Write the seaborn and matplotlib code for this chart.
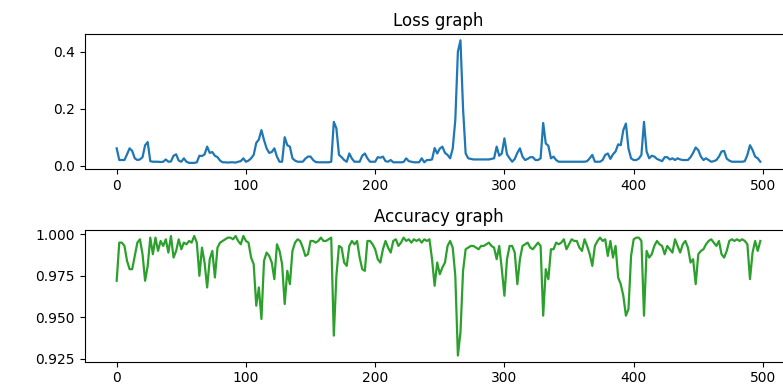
import numpy as np
import pandas as pd
import matplotlib
matplotlib.use("Agg")
import matplotlib.pyplot as plt
import seaborn as sns

# epoch indices (sampled every 2 steps)
epochs = list(range(0, 500, 2))

loss_values = [
    0.061, 0.020, 0.020, 0.020, 0.040, 0.061, 0.052, 0.026, 0.020, 0.022,
    0.030, 0.072, 0.083, 0.016, 0.014, 0.014, 0.014, 0.013, 0.014, 0.022,
    0.014, 0.015, 0.035, 0.040, 0.018, 0.014, 0.026, 0.014, 0.010, 0.010,
    0.010, 0.012, 0.035, 0.034, 0.040, 0.067, 0.045, 0.048, 0.035, 0.030,
    0.018, 0.012, 0.012, 0.011, 0.012, 0.012, 0.011, 0.014, 0.016, 0.026,
    0.014, 0.018, 0.026, 0.038, 0.080, 0.092, 0.125, 0.090, 0.061, 0.045,
    0.048, 0.061, 0.032, 0.014, 0.014, 0.100, 0.072, 0.067, 0.026, 0.018,
    0.014, 0.014, 0.014, 0.025, 0.032, 0.032, 0.020, 0.013, 0.012, 0.012,
    0.012, 0.012, 0.012, 0.014, 0.154, 0.131, 0.038, 0.030, 0.020, 0.014,
    0.043, 0.025, 0.014, 0.014, 0.014, 0.035, 0.043, 0.026, 0.014, 0.014,
    0.014, 0.030, 0.028, 0.032, 0.016, 0.014, 0.020, 0.012, 0.012, 0.012,
    0.012, 0.013, 0.026, 0.016, 0.014, 0.012, 0.012, 0.012, 0.026, 0.012,
    0.020, 0.020, 0.022, 0.062, 0.043, 0.060, 0.067, 0.045, 0.038, 0.026,
    0.060, 0.160, 0.400, 0.440, 0.200, 0.043, 0.026, 0.024, 0.022, 0.022,
    0.022, 0.022, 0.022, 0.022, 0.022, 0.024, 0.026, 0.067, 0.035, 0.043,
    0.096, 0.040, 0.026, 0.014, 0.024, 0.045, 0.061, 0.032, 0.020, 0.024,
    0.030, 0.030, 0.020, 0.020, 0.026, 0.150, 0.078, 0.070, 0.026, 0.032,
    0.020, 0.014, 0.014, 0.014, 0.014, 0.014, 0.014, 0.014, 0.014, 0.014,
    0.014, 0.014, 0.016, 0.026, 0.038, 0.014, 0.014, 0.014, 0.020, 0.038,
    0.043, 0.024, 0.040, 0.050, 0.075, 0.072, 0.125, 0.148, 0.060, 0.026,
    0.020, 0.020, 0.025, 0.038, 0.154, 0.050, 0.026, 0.035, 0.032, 0.024,
    0.020, 0.016, 0.030, 0.030, 0.022, 0.026, 0.020, 0.026, 0.022, 0.020,
    0.020, 0.020, 0.030, 0.045, 0.064, 0.055, 0.032, 0.020, 0.026, 0.020,
    0.014, 0.016, 0.020, 0.032, 0.050, 0.052, 0.025, 0.018, 0.014, 0.014,
    0.014, 0.014, 0.014, 0.016, 0.038, 0.072, 0.055, 0.032, 0.026, 0.014,
]

accuracy_values = [
    0.972, 0.995, 0.995, 0.993, 0.984, 0.979, 0.979, 0.987, 0.995, 0.997,
    0.988, 0.972, 0.981, 0.998, 0.988, 0.998, 0.990, 0.996, 0.993, 0.997,
    0.989, 0.999, 0.986, 0.990, 0.997, 0.991, 0.995, 0.994, 0.996, 0.995,
    0.999, 0.995, 0.975, 0.992, 0.983, 0.968, 0.985, 0.990, 0.974, 0.992,
    0.995, 0.996, 0.997, 0.998, 0.998, 0.997, 0.999, 0.996, 0.994, 0.999,
    0.996, 0.995, 0.986, 0.982, 0.957, 0.968, 0.949, 0.984, 0.989, 0.987,
    0.983, 0.973, 0.994, 0.990, 0.982, 0.958, 0.978, 0.970, 0.990, 0.995,
    0.997, 0.996, 0.992, 0.987, 0.988, 0.996, 0.996, 0.995, 0.996, 0.998,
    0.996, 0.996, 0.997, 0.998, 0.939, 0.975, 0.993, 0.992, 0.983, 0.981,
    0.993, 0.996, 0.994, 0.996, 0.986, 0.979, 0.978, 0.996, 0.996, 0.994,
    0.991, 0.985, 0.983, 0.991, 0.996, 0.992, 0.989, 0.996, 0.997, 0.993,
    0.995, 0.998, 0.996, 0.997, 0.995, 0.997, 0.996, 0.997, 0.995, 0.997,
    0.996, 0.997, 0.985, 0.969, 0.983, 0.976, 0.980, 0.983, 0.993, 0.996,
    0.992, 0.975, 0.927, 0.941, 0.978, 0.991, 0.992, 0.993, 0.993, 0.992,
    0.991, 0.993, 0.993, 0.994, 0.995, 0.993, 0.992, 0.985, 0.993, 0.979,
    0.963, 0.985, 0.993, 0.993, 0.989, 0.970, 0.985, 0.993, 0.994, 0.995,
    0.992, 0.991, 0.993, 0.995, 0.993, 0.951, 0.979, 0.973, 0.991, 0.991,
    0.995, 0.994, 0.995, 0.997, 0.991, 0.994, 0.997, 0.996, 0.996, 0.992,
    0.990, 0.997, 0.993, 0.988, 0.981, 0.993, 0.996, 0.998, 0.996, 0.997,
    0.987, 0.996, 0.986, 0.993, 0.974, 0.970, 0.963, 0.951, 0.955, 0.987,
    0.997, 0.998, 0.998, 0.996, 0.951, 0.990, 0.986, 0.988, 0.993, 0.996,
    0.994, 0.993, 0.988, 0.993, 0.991, 0.989, 0.997, 0.993, 0.989, 0.994,
    0.996, 0.992, 0.983, 0.985, 0.970, 0.988, 0.990, 0.991, 0.994, 0.996,
    0.997, 0.995, 0.993, 0.996, 0.988, 0.986, 0.990, 0.996, 0.997, 0.996,
    0.997, 0.996, 0.997, 0.996, 0.994, 0.973, 0.989, 0.996, 0.990, 0.996,
]

titles = ["Loss graph", "Accuracy graph"]

df = pd.DataFrame({"epoch": epochs, "loss": loss_values, "accuracy": accuracy_values})

W, H = 783, 387
fig = plt.figure(figsize=(W / 100, H / 100), dpi=100)

def frac_axes(left_px, top_px, width_px, height_px):
    return fig.add_axes([left_px / W, 1 - (top_px + height_px) / H, width_px / W, height_px / H])

ax1 = frac_axes(84.5, 34.2, 708.0, 134.8)
ax2 = frac_axes(84.5, 230.0, 708.0, 131.5)

sns.lineplot(data=df, x="epoch", y="loss", ax=ax1, color="#1f77b4", linewidth=1.6)
sns.lineplot(data=df, x="epoch", y="accuracy", ax=ax2, color="#2ca02c", linewidth=1.6)

for ax, t in zip((ax1, ax2), titles):
    ax.set_title(t, fontsize=12)
    ax.set_xlabel("")
    ax.set_ylabel("")
    ax.tick_params(labelsize=10)

ax1.set_yticks([0.0, 0.2, 0.4])
ax2.set_yticks([0.925, 0.950, 0.975, 1.000])
ax2.set_yticklabels(["0.925", "0.950", "0.975", "1.000"])

fig.savefig("out.png", dpi=100)
